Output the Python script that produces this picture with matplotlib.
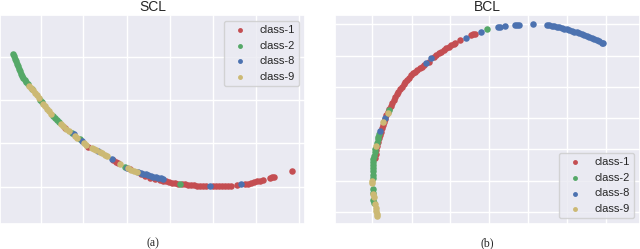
import matplotlib
matplotlib.use("Agg")
import matplotlib.pyplot as plt
import seaborn as sns

sns.set_theme(style="darkgrid")
plt.rcParams['font.family'] = ['Liberation Sans', 'DejaVu Sans']

labels = ["class-1", "class-2", "class-8", "class-9"]
colors = ["#C44E52", "#55A868", "#4C72B0", "#CCB974"]

# ---------- SCL (left) ----------
scl_c1_x = [64.5, 88, 113, 115.5, 118, 130, 141, 145, 150, 155, 160, 163, 166, 169, 172, 175, 178, 182,
            185, 188, 191, 194, 197, 200, 203, 206, 213, 216, 219, 222, 225, 228, 231, 237, 245, 248,
            251, 254, 257, 260, 263, 270, 272, 274, 292]
scl_c1_y = [128, 147, 160.5, 162, 163.3, 169.5, 174.3, 176, 177.6, 179, 180, 180.7, 181.4, 182,
            182.6, 183.1, 183.6, 184.1, 184.5, 184.9, 185.2, 185.5, 185.8, 186, 186.2, 186.3, 186.4, 186.4,
            186.3, 186.2, 186, 185.8, 185.6, 184.8, 184, 183.6, 183, 182.3, 181.5, 180.7, 180, 178,
            177.3, 176.8, 171]
scl_c2_x = [13.3, 14, 14.8, 15.6, 16.5, 17.5, 18.5, 19.6, 20.8, 22, 23.3, 24.6, 26, 27.5, 31.5, 40, 41.5,
            53, 55, 57, 59, 72, 80, 125, 180]
scl_c2_y = [54, 56.5, 59, 61.5, 64, 66.5, 69, 71.5, 74, 76.2, 78.4, 80.5, 82.5, 84.5, 89, 100, 102,
            116.5, 118.5, 120.5, 122.5, 133, 139.5, 167, 183.8]
scl_c8_x = [74, 82, 98, 111.5, 126.5, 138, 140.5, 143, 145.5, 148, 150.5, 153, 155.5, 158, 160.5, 163,
            210, 241]
scl_c8_y = [134.5, 141, 151.5, 159.5, 167.8, 172.1, 172.9, 173.7, 174.5, 175.2, 175.9, 176.6, 177.2,
            177.7, 178.2, 178.7, 186.2, 184.3]
scl_c9_x = [29, 30.5, 33, 35, 37, 39, 43, 45, 47, 49, 51, 61, 63, 66, 69, 75, 77, 84, 86, 92, 94, 96, 100,
            102, 105, 107, 120, 128, 131, 134, 137]
scl_c9_y = [86, 88, 90.5, 93, 95.5, 98, 104, 106.5, 109, 111.5, 114, 124.5, 126.5, 129.5, 131.5, 136.5,
            138, 143.5, 145, 148, 149.5, 150.5, 152.5, 153.5, 155, 156, 164, 168.5, 170, 171, 172]

# ---------- BCL (right) ----------
bcl_c1_x = [374.8, 375.5, 376.2, 377, 377.8, 378.6, 379.5, 380.5, 381.5, 382.5, 383.7, 385, 386.3,
            387.7, 389, 390.5, 392, 393.5, 395, 396.7, 398.3, 400, 401.7, 403.5, 405.3, 407, 409, 411,
            413, 415, 417.2, 419.5, 421.8, 424, 428.5, 433.5, 436, 438.5, 441, 443.5, 446, 448.5, 451,
            453.5, 455, 460, 470.5, 472.5, 475]
bcl_c1_y = [158, 154, 150, 146, 142, 138.5, 135, 132, 128.5, 125.5, 122, 119, 115.5, 112.5, 109.5,
            106, 103, 100, 97, 94.5, 92, 89.5, 87, 84.5, 82, 80, 78, 75.5, 73.5, 72, 70, 68.5, 67,
            65.5, 62, 57, 55, 53.5, 52, 50.3, 48.5, 47, 45.5, 44.2, 43.3, 40.5, 35, 34.5, 33.8]
bcl_c2_x = [373.5, 373.2, 373, 372.8, 372.6, 372.8, 373.2, 373.3, 373.2, 373, 373.2, 373.6, 374.5,
            375.2, 376.5, 377.5, 378.3, 379, 389.3, 486.7]
bcl_c2_y = [203, 200, 193, 189, 178, 175, 171.5, 168, 165, 162, 159, 156, 152, 149, 143, 139, 136.7,
            134, 110, 29.5]
bcl_c8_x = [380, 385, 426, 430.7, 465.8, 481, 498.3, 500, 505, 515, 517, 519.3, 532.7, 546.7, 549,
            551.7, 554, 556.5, 559, 561.5, 564, 566.5, 569, 571.5, 574, 576.5, 579, 581.5, 584, 586.5,
            589, 591.5, 594, 596.5, 599, 601.5, 603.3]
bcl_c8_y = [131.5, 118, 63, 58.5, 37.7, 31.7, 27.5, 27.2, 26.3, 25, 25, 25, 24.3, 25, 25.3, 26, 26.5,
            27, 27.5, 28, 28.7, 29.3, 30, 30.8, 31.6, 32.5, 33.4, 34.3, 35.3, 36.3, 37.3, 38.3, 39.3,
            40.4, 41.5, 42.6, 43.3]
bcl_c9_x = [377, 376.6, 376, 375.5, 374.8, 373.6, 373.3, 372, 372.3, 376, 383.3, 388.3]
bcl_c9_y = [216, 214, 211, 208, 204.5, 197, 194, 183, 181, 145.7, 122.3, 112.7]

scl = [(scl_c1_x, scl_c1_y), (scl_c2_x, scl_c2_y), (scl_c8_x, scl_c8_y), (scl_c9_x, scl_c9_y)]
bcl = [(bcl_c1_x, bcl_c1_y), (bcl_c2_x, bcl_c2_y), (bcl_c8_x, bcl_c8_y), (bcl_c9_x, bcl_c9_y)]

W, H = 640, 249
fig = plt.figure(figsize=(6.4, 2.49), dpi=100)
ax1 = fig.add_axes([0 / W, (H - 224) / H, 305 / W, 209 / H])
ax2 = fig.add_axes([334.7 / W, (H - 224) / H, 305.3 / W, 209 / H])

def draw(ax, data, title, xlim, ylim, xt, yt, loc, sub):
    for (xs, ys), lab, col in zip(data, labels, colors):
        ax.scatter(xs, ys, s=22, color=col, linewidths=0, label=lab)
    ax.set_xlim(*xlim)
    ax.set_ylim(*ylim)
    ax.set_xticks(xt)
    ax.set_yticks(yt)
    ax.set_xticklabels([])
    ax.set_yticklabels([])
    ax.tick_params(length=0)
    ax.set_title(title, fontsize=10, pad=3)
    ax.legend(loc=loc, fontsize=8, markerscale=0.75, borderaxespad=0.5)
    ax.text(0.5, -0.09, sub, transform=ax.transAxes, ha='center', va='center',
            fontsize=8.5, family=['Liberation Serif', 'DejaVu Serif'])

draw(ax1, scl, "SCL", (0, 305), (224, 15),
     [40.7, 83.3, 126.7, 170, 213, 256, 299], [57, 100, 143, 187], 'upper right', "(a)")
draw(ax2, bcl, "BCL", (334.7, 640), (224, 15),
     [372.3, 411.7, 450, 489, 528, 567, 606], [24, 55.7, 87.3, 118, 149, 181, 212], 'lower right', "(b)")

fig.savefig("out.png", dpi=100)
